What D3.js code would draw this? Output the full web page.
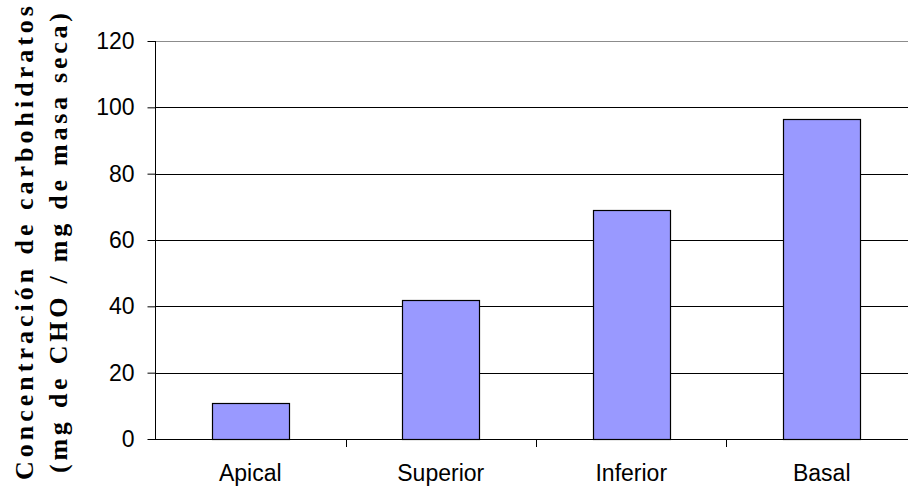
<!DOCTYPE html>
<html>
<head>
<meta charset="utf-8">
<script src="https://cdn.jsdelivr.net/npm/d3@7"></script>
<style>
  html, body { margin: 0; padding: 0; background: #fff; }
  svg { display: block; }
</style>
</head>
<body>
<svg id="chart" width="908" height="492"></svg>
<script>
// Carbohydrate concentration by stem section
const categories = ["Apical", "Superior", "Inferior", "Basal"];
const values = [11, 42, 69, 96.5];
const yTicks = [0, 20, 40, 60, 80, 100, 120];
const titleLines = ["Concentración de carbohidratos", "(mg de CHO / mg de masa seca)"];

const svg = d3.select("#chart");
const W = 908, H = 492;
const plotLeft = 155, plotRight = 917, plotTop = 41, plotBottom = 439;

const x = d3.scaleBand()
  .domain(categories)
  .range([plotLeft, plotRight])
  .paddingInner(0.595)
  .paddingOuter(0.2975);

const y = d3.scaleLinear().domain([0, 120]).range([plotBottom, plotTop]);

// horizontal gridlines
svg.append("g").selectAll("line")
  .data(yTicks.filter(d => d > 0))
  .join("line")
  .attr("x1", plotLeft).attr("x2", W)
  .attr("y1", d => Math.round(y(d)) + 0.5)
  .attr("y2", d => Math.round(y(d)) + 0.5)
  .attr("stroke", d => d === 120 ? "#8c8c8c" : "#000")
  .attr("stroke-width", 1);

// bars
svg.append("g").selectAll("rect")
  .data(categories.map((c, i) => ({ c, v: values[i] })))
  .join("rect")
  .attr("x", d => Math.round(x(d.c)) + 0.5)
  .attr("y", d => Math.round(y(d.v)) + 0.5)
  .attr("width", Math.round(x.bandwidth()))
  .attr("height", d => Math.round(y(0)) - Math.round(y(d.v)))
  .attr("fill", "#9999ff")
  .attr("stroke", "#000")
  .attr("stroke-width", 1.2);

// y axis
const yAxis = d3.axisLeft(y).tickValues(yTicks).tickSize(8).tickPadding(13);
const gy = svg.append("g")
  .attr("transform", `translate(${plotLeft + 0.5},0)`)
  .call(yAxis);
gy.select(".domain").attr("stroke", "#000").attr("d", `M0,${plotTop}V${plotBottom + 0.5}`);
gy.selectAll(".tick line").attr("stroke", "#000");
gy.selectAll(".tick text")
  .attr("font-family", "'Liberation Sans', Arial, sans-serif")
  .attr("font-size", 23)
  .attr("fill", "#000");

// x axis baseline and category separators
const step = x.step();
const sepOffset = step * x.paddingInner() / 2;
svg.append("line")
  .attr("x1", plotLeft).attr("x2", W)
  .attr("y1", Math.round(plotBottom) + 0.5).attr("y2", Math.round(plotBottom) + 0.5)
  .attr("stroke", "#000");
svg.append("g").selectAll("line")
  .data(categories.slice(1))
  .join("line")
  .attr("x1", d => Math.round(x(d) - sepOffset) + 0.5)
  .attr("x2", d => Math.round(x(d) - sepOffset) + 0.5)
  .attr("y1", plotBottom).attr("y2", plotBottom + 8)
  .attr("stroke", "#000");

// category labels
svg.append("g").selectAll("text")
  .data(categories)
  .join("text")
  .attr("x", d => x(d) + x.bandwidth() / 2)
  .attr("y", 481)
  .attr("text-anchor", "middle")
  .attr("font-family", "'Liberation Sans', Arial, sans-serif")
  .attr("font-size", 23)
  .attr("fill", "#000")
  .text(d => d);

// axis title, two rotated lines
const title = svg.append("g").attr("transform", "translate(0,243) rotate(-90)");
title.selectAll("text")
  .data(titleLines)
  .join("text")
  .attr("x", 0)
  .attr("y", (d, i) => 33 + i * 34)
  .attr("text-anchor", "middle")
  .attr("font-family", "'Liberation Serif', 'Times New Roman', serif")
  .attr("font-weight", "bold")
  .attr("font-size", 26)
  .attr("textLength", (d, i) => i === 0 ? 474 : 460)
  .attr("lengthAdjust", "spacing")
  .attr("fill", "#000")
  .text(d => d);
</script>
</body>
</html>
